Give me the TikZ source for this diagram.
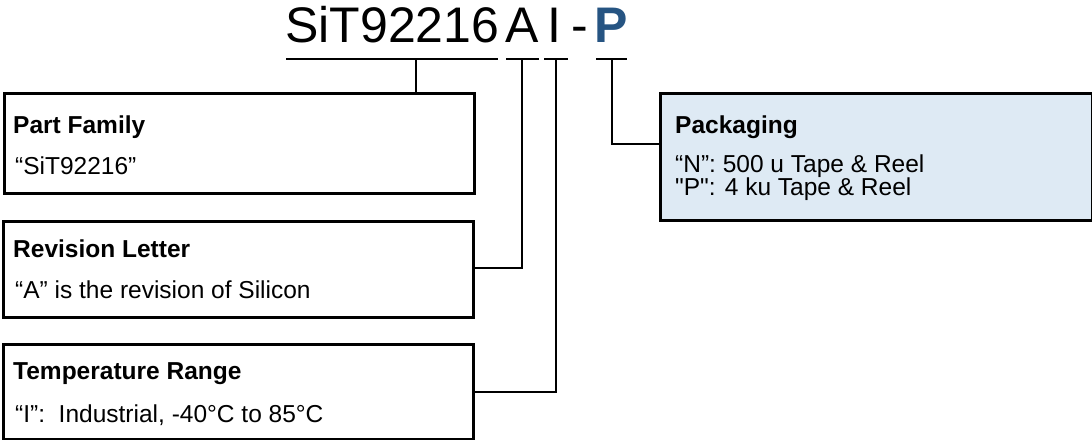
\documentclass[tikz,border=0pt]{standalone}
\usepackage{fontspec}
\setmainfont{Liberation Sans}
\newfontfamily\plainquotes{Liberation Sans}
\definecolor{pblue}{RGB}{38,84,130}
\definecolor{boxfill}{RGB}{222,234,244}
\begin{document}
\begin{tikzpicture}[x=1pt,y=-1pt,
  infobox/.style={draw=black,line width=2.5pt,rectangle,inner sep=0pt,anchor=north west},
  txt/.style={anchor=base west,inner sep=0pt,font=\fontsize{24.5}{29}\selectfont},
  ttl/.style={txt,font=\fontsize{24.5}{29}\selectfont\bfseries},
  big/.style={anchor=base west,inner sep=0pt,font=\fontsize{50}{60}\selectfont},
  conn/.style={line width=2.5pt,line cap=rect}]
\useasboundingbox (0,0) rectangle (1092,439);
% title
\node[big] (pn) at (285,42) {SiT92216};
\node[big] (pa) at (505,42) {A};
\node[big] (pi) at (547,42) {I};
\node[big] (ph) at (571,42) {-};
\node[big,font=\fontsize{50}{60}\selectfont\bfseries,text=pblue] (pp) at (594,42) {P};
% boxes
\node[infobox,minimum width=470pt,minimum height=100pt] (fam) at (3,92) {};
\node[infobox,minimum width=470pt,minimum height=96pt] (rev) at (2,220) {};
\node[infobox,minimum width=470pt,minimum height=95pt] (tmp) at (2,343) {};
\node[infobox,fill=boxfill,minimum width=432pt,minimum height=127pt] (pkg) at (659,92) {};
% texts
\node[ttl] (famt) at (13,133) {Part Family};
\node[txt] (famb) at (15,174) {“SiT92216”};
\node[ttl] (revt) at (13,257) {Revision Letter};
\node[txt] (revb) at (15,298) {“A” is the revision of Silicon};
\node[ttl] (tmpt) at (13,379) {Temperature Range};
\node[txt] (tmpb) at (15,422) {“I”:\ \ Industrial, -40°C to 85°C};
\node[ttl] (pkgt) at (675,133) {Packaging};
\node[txt] (pkgb1) at (675,172) {“N”: 500 u Tape \& Reel};
\node[txt,font=\fontsize{24.5}{29}\selectfont\plainquotes] (pkgb2) at (675,195) {"P": 4 ku Tape \& Reel};
% connector coordinates
\coordinate (n1) at (287,59); \coordinate (n2) at (497,59); \coordinate (nm) at (416,59);
\coordinate (a1) at (507,59); \coordinate (a2) at (538,59); \coordinate (am) at (522,59);
\coordinate (i1) at (545,59); \coordinate (i2) at (567,59); \coordinate (im) at (556,59);
\coordinate (p1) at (597,59); \coordinate (p2) at (626,59); \coordinate (pm) at (612,59);
\draw[conn] (n1) -- (n2);
\draw[line width=2.5pt] (nm) -- (nm |- fam.north);
\draw[conn] (a1) -- (a2);
\draw[line width=2.5pt] (am) |- (rev.east |- 0,268);
\draw[conn] (i1) -- (i2);
\draw[line width=2.5pt] (im) |- (tmp.east |- 0,392);
\draw[conn] (p1) -- (p2);
\draw[line width=2.5pt] (pm) |- (pkg.west |- 0,144);
\end{tikzpicture}
\end{document}
